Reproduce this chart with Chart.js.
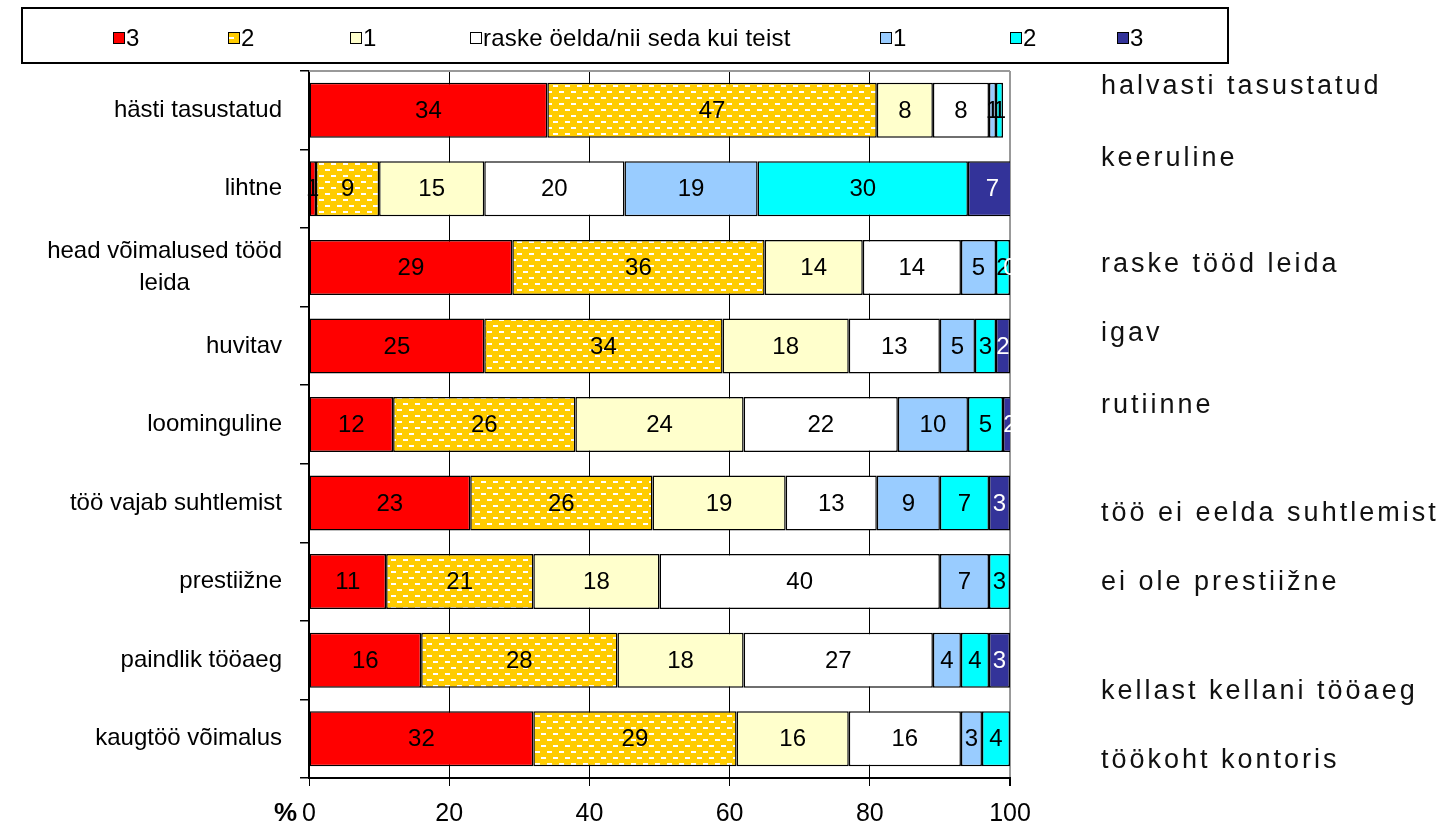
<!DOCTYPE html>
<html>
<head>
<meta charset="utf-8">
<script src="https://cdn.jsdelivr.net/npm/chart.js@4/dist/chart.umd.min.js"></script>
<style>
  body { margin: 0; background: #fff; }
  canvas { display: block; }
</style>
</head>
<body>
<canvas id="chart" width="1439" height="827"></canvas>
<script>

const categories = ["hästi tasustatud", "lihtne", ["head võimalused tööd", "leida"], "huvitav", "loominguline",
  "töö vajab suhtlemist", "prestiižne", "paindlik tööaeg", "kaugtöö võimalus"];
const oppositeLabels = ["halvasti tasustatud", "keeruline", "raske tööd leida", "igav", "rutiinne",
  "töö ei eelda suhtlemist", "ei ole prestiižne", "kellast kellani tööaeg", "töökoht kontoris"];
const seriesNames = ["3", "2", "1", "raske öelda/nii seda kui teist", "1", "2", "3"];

const left3 = [34, 1, 29, 25, 12, 23, 11, 16, 32];
const left2 = [47, 9, 36, 34, 26, 26, 21, 28, 29];
const left1 = [8, 15, 14, 18, 24, 19, 18, 18, 16];
const neutral = [8, 20, 14, 13, 22, 13, 40, 27, 16];
const right1 = [1, 19, 5, 5, 10, 9, 7, 4, 3];
const right2 = [1, 30, 2, 3, 5, 7, 3, 4, 4];
const right3 = [null, 7, 0, 2, 2, 3, null, 3, null];

const xTicks = [0, 20, 40, 60, 80, 100];

// styling
const FONT = "'Liberation Sans', Arial, sans-serif";
const colors = ["#ff0000", "gold", "#ffffcc", "#ffffff", "#99ccff", "#00ffff", "#333399"];
const labelColors = ["#000", "#000", "#000", "#000", "#000", "#000", "#fff"];
const legendX = [113, 228, 350, 470, 880, 1010, 1117];
const rightShift = [-25, -31, -4, -13, -20, 9, 0, 30, 21];

function goldPattern(){
  const c = document.createElement("canvas");
  c.width = 12; c.height = 12;
  const g = c.getContext("2d");
  g.fillStyle = "#ffcc00";
  g.fillRect(0, 0, 12, 12);
  g.fillStyle = "#ffffff";
  g.fillRect(1, 1, 5, 2);
  g.fillRect(7, 7, 5, 2);
  return g.createPattern(c, "repeat");
}

const ctx0 = document.getElementById("chart").getContext("2d");
const gold = goldPattern();
const fills = colors.map(c => c === "gold" ? gold : c);

const values = [left3, left2, left1, neutral, right1, right2, right3];

const extras = {
  id: "extras",
  afterDatasetsDraw(chart){
    const ctx = chart.ctx;
    ctx.save();
    ctx.font = "24px " + FONT;
    ctx.textAlign = "center";
    ctx.textBaseline = "middle";
    chart.data.datasets.forEach((ds, di) => {
      const meta = chart.getDatasetMeta(di);
      meta.data.forEach((el, i) => {
        const v = ds.data[i];
        if (v === null || v === undefined) return;
        ctx.fillStyle = labelColors[di];
        ctx.fillText(String(v), (el.x + el.base) / 2, el.y + 1);
      });
    });
    ctx.restore();
  },
  afterDraw(chart){
    const ctx = chart.ctx;
    const area = chart.chartArea;
    const y = chart.scales.y;
    ctx.save();

    // top border of plot area
    ctx.strokeStyle = "#999";
    ctx.lineWidth = 2;
    ctx.beginPath();
    ctx.moveTo(area.left, area.top);
    ctx.lineTo(area.right, area.top);
    ctx.stroke();

    // legend
    ctx.strokeStyle = "#000";
    ctx.lineWidth = 2;
    ctx.strokeRect(22, 8, 1206, 55);
    ctx.font = "24px " + FONT;
    ctx.letterSpacing = "0.2px";
    ctx.textAlign = "left";
    ctx.textBaseline = "middle";
    seriesNames.forEach((name, i) => {
      const x = legendX[i];
      ctx.fillStyle = fills[i];
      ctx.fillRect(x, 32, 11, 11);
      ctx.lineWidth = 1;
      ctx.strokeStyle = "#000";
      ctx.strokeRect(x + 0.5, 32.5, 11, 11);
      ctx.fillStyle = "#000";
      ctx.fillText(name, x + 13, 39);
    });
    ctx.letterSpacing = "0px";

    // left category labels
    ctx.font = "24px " + FONT;
    ctx.fillStyle = "#000";
    ctx.textAlign = "center";
    const rightEdge = area.left - 27;
    categories.forEach((lab, i) => {
      const lines = Array.isArray(lab) ? lab : [lab];
      const w = Math.max(...lines.map(l => ctx.measureText(l).width));
      const cy = y.getPixelForValue(i);
      lines.forEach((l, k) => {
        ctx.fillText(l, rightEdge - w / 2, cy + (k - (lines.length - 1) / 2) * 32);
      });
    });

    // right opposite labels
    ctx.font = "27px " + FONT;
    ctx.letterSpacing = "3px";
    ctx.fillStyle = "#111";
    ctx.textAlign = "left";
    oppositeLabels.forEach((lab, i) => {
      ctx.fillText(lab, 1101, y.getPixelForValue(i) + rightShift[i] + 1);
    });
    ctx.letterSpacing = "0px";

    // percent sign
    ctx.font = "bold 26px " + FONT;
    ctx.textAlign = "right";
    ctx.fillStyle = "#000";
    ctx.fillText("%", area.left - 12, 814);

    ctx.restore();
  }
};

new Chart(ctx0, {
  type: "bar",
  data: {
    labels: categories,
    datasets: values.map((data, i) => ({
      label: seriesNames[i],
      data: data,
      backgroundColor: fills[i],
      borderColor: "#000",
      borderWidth: 1.5,
      borderSkipped: false,
      barPercentage: 0.7,
      categoryPercentage: 1
    }))
  },
  options: {
    indexAxis: "y",
    responsive: false,
    animation: false,
    layout: { padding: { left: 300, right: 429, top: 71, bottom: 0 } },
    plugins: {
      legend: { display: false },
      tooltip: { enabled: false }
    },
    scales: {
      x: {
        stacked: true,
        min: 0,
        max: 100,
        afterBuildTicks: scale => { scale.ticks = xTicks.map(v => ({ value: v })); },
        afterFit: scale => { scale.height = 49; },
        ticks: { font: { size: 25, family: FONT }, color: "#000", padding: 13, maxRotation: 0 },
        grid: {
          color: c => c.tick && c.tick.value === 100 ? "#999" : "#000",
          lineWidth: c => c.tick && c.tick.value === 100 ? 2 : 1,
          tickLength: 8,
          tickColor: "#000"
        },
        border: { color: "#000", width: 2 }
      },
      y: {
        stacked: true,
        afterFit: scale => { scale.width = 9; },
        ticks: { display: false },
        grid: { drawOnChartArea: false, tickLength: 9, color: "#000", lineWidth: 1.5 },
        border: { color: "#000", width: 2 }
      }
    }
  },
  plugins: [extras]
});

</script>
</body>
</html>
